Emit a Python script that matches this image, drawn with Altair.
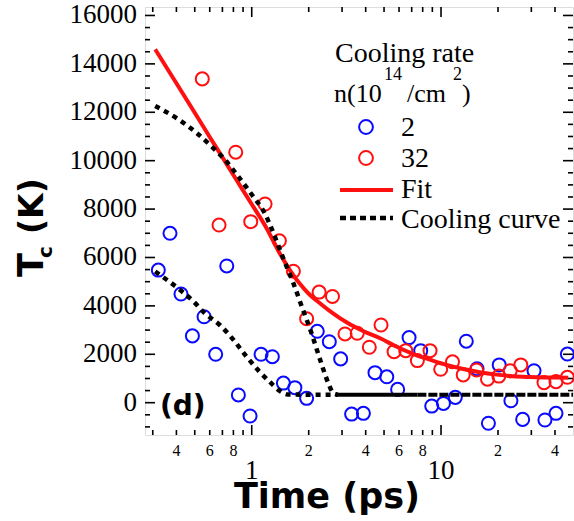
import altair as alt
import pandas as pd

# ---------------- data ----------------
blue_t = [0.321, 0.370, 0.423, 0.486, 0.560, 0.645, 0.738, 0.850, 0.98, 1.12, 1.285,
          1.47, 1.69, 1.95, 2.22, 2.57, 2.95, 3.37, 3.89, 4.48, 5.17, 5.90, 6.78,
          7.81, 8.93, 10.3, 11.9, 13.6, 15.5, 17.8, 20.3, 23.4, 27.0, 31.0, 35.4,
          40.5, 46.5]
blue_tc = [5480, 7000, 4490, 2760, 3550, 2000, 5650, 320, -550, 2000, 1900,
           810, 620, 180, 2950, 2520, 1810, -470, -440, 1240, 1070, 550, 2690,
           2150, -140, -30, 220, 2540, 1400, -850, 1560, 80, -690, 1320, -715,
           -440, 2010]

red_t = [0.548, 0.672, 0.823, 0.988, 1.176, 1.40, 1.66, 1.95, 2.27, 2.67, 3.11,
         3.61, 4.18, 4.82, 5.65, 6.51, 7.50, 8.75, 9.96, 11.5, 13.1, 15.4, 17.6,
         20.2, 23.2, 26.4, 35.0, 40.5, 46.5]
red_tc = [13380, 7340, 10350, 7480, 8210, 6690, 5430, 3470, 4570, 4390, 2840,
          2870, 2290, 3210, 2110, 2150, 1740, 2150, 1380, 1690, 1150, 1350, 970,
          1100, 1320, 1560, 830, 870, 1050]

fit_t = [0.309, 0.4, 0.5, 0.6, 0.7, 0.8, 1.0, 1.2, 1.4, 1.6, 1.8, 2.0, 2.3, 2.7,
         3.2, 3.9, 4.8, 5.8, 7.1, 8.8, 10.7, 13.1, 16, 19.7, 24, 29.5, 36, 47]
fit_tc = [14600, 13200, 11980, 10980, 10140, 9410, 8200, 7200, 6200, 5450, 4900,
          4500, 4100, 3680, 3300, 2950, 2650, 2320, 2020, 1770, 1560, 1390, 1260,
          1160, 1090, 1060, 1045, 1035]

cool_hi_t = [0.309, 0.402, 0.502, 0.615, 0.723, 0.85, 1.0, 1.176, 1.28, 1.47, 1.66,
             1.84, 2.07, 2.30, 2.54, 2.70, 2.85]
cool_hi_tc = [12260, 11750, 11200, 10580, 10030, 9340, 8600, 7800, 7150, 5950, 4934,
              3967, 2868, 1764, 801, 388, 330]

cool_lo_t = [0.309, 0.36, 0.42, 0.49, 0.56, 0.68, 0.80, 0.94, 1.1, 1.25, 1.41, 1.55,
             2.0, 2.85]
cool_lo_tc = [5420, 5050, 4650, 4200, 3720, 3200, 2600, 1900, 1280, 850, 480, 340,
              330, 330]

flat_solid_t = [2.85, 7.5]
flat_dash_t = [7.5, 49.8]
flat_tc = 330

y_major = list(range(0, 16001, 2000))
y_minor = [v for v in range(-1000, 16001, 500) if v % 2000 != 0]
x_major = [1, 10]
x_minor = [0.3, 0.4, 0.5, 0.6, 0.7, 0.8, 0.9, 2, 3, 4, 5, 6, 7, 8, 9, 20, 30, 40]
x_minor_lab = [0.4, 0.6, 0.8, 2, 4, 6, 8, 20, 40]
x_major_lab = [1, 10]

# ---------------- layout ----------------
W = H = 428
SERIF = "Liberation Serif"
SANS = "DejaVu Sans"
BLUE = "#0a0aff"
RED = "#ff1010"
PT_SIZE = 170

xs = alt.Scale(type="log", domain=[0.273, 49.8], nice=False)
ys = alt.Scale(domain=[-1335, 16350], nice=False, zero=False)

pts = pd.DataFrame({
    "t": blue_t + red_t,
    "tc": blue_tc + red_tc,
    "n": ["2"] * len(blue_t) + ["32"] * len(red_t),
})

points = alt.Chart(pts).mark_point(shape="circle", filled=False, size=PT_SIZE, strokeWidth=2,
                                   opacity=1).encode(
    x=alt.X("t:Q", scale=xs, axis=None),
    y=alt.Y("tc:Q", scale=ys, axis=None),
    color=alt.Color("n:N", scale=alt.Scale(domain=["2", "32"], range=[BLUE, RED]), legend=None),
)

fit = alt.Chart(pd.DataFrame({"t": fit_t, "tc": fit_tc})).mark_line(
    color=RED, strokeWidth=4, interpolate="monotone").encode(
    x=alt.X("t:Q", scale=xs, axis=None), y=alt.Y("tc:Q", scale=ys, axis=None))

cool_df = pd.DataFrame({
    "t": cool_hi_t + cool_lo_t,
    "tc": cool_hi_tc + cool_lo_tc,
    "s": ["hi"] * len(cool_hi_t) + ["lo"] * len(cool_lo_t),
})
cool = alt.Chart(cool_df).mark_line(
    color="black", strokeWidth=4.5, strokeDash=[5, 5], interpolate="monotone").encode(
    x=alt.X("t:Q", scale=xs, axis=None), y=alt.Y("tc:Q", scale=ys, axis=None), detail="s:N")

flat1 = alt.Chart(pd.DataFrame({"t": flat_solid_t, "tc": [flat_tc] * 2})).mark_line(
    color="black", strokeWidth=4).encode(
    x=alt.X("t:Q", scale=xs, axis=None), y=alt.Y("tc:Q", scale=ys, axis=None))
flat2 = alt.Chart(pd.DataFrame({"t": flat_dash_t, "tc": [flat_tc] * 2})).mark_line(
    color="black", strokeWidth=4, strokeDash=[9, 2]).encode(
    x=alt.X("t:Q", scale=xs, axis=None), y=alt.Y("tc:Q", scale=ys, axis=None))

# ---------------- inward ticks on all four sides ----------------
def xticks(vals, length):
    df = pd.DataFrame({"v": vals})
    bx = alt.Chart(df).mark_rule(color="black", strokeWidth=1.6).encode(
        x=alt.X("v:Q", scale=xs, axis=None), y=alt.value(H), y2=alt.value(H - length))
    tx = alt.Chart(df).mark_rule(color="black", strokeWidth=1.6).encode(
        x=alt.X("v:Q", scale=xs, axis=None), y=alt.value(0), y2=alt.value(length))
    return [bx, tx]

def yticks(vals, length):
    df = pd.DataFrame({"v": vals})
    ly = alt.Chart(df).mark_rule(color="black", strokeWidth=1.6).encode(
        y=alt.Y("v:Q", scale=ys, axis=None), x=alt.value(0), x2=alt.value(length))
    ry = alt.Chart(df).mark_rule(color="black", strokeWidth=1.6).encode(
        y=alt.Y("v:Q", scale=ys, axis=None), x=alt.value(W), x2=alt.value(W - length))
    return [ly, ry]

ticks = xticks(x_major, 10) + xticks(x_minor, 5) + yticks(y_major, 10) + yticks(y_minor, 5)

# ---------------- tick labels ----------------
minor_lab_df = pd.DataFrame({"v": x_minor_lab,
                             "lab": [f"{v:g}"[0] if v >= 1 else f"{v:g}"[-1] for v in x_minor_lab]})
minor_labels = alt.Chart(minor_lab_df).mark_text(
    font=SERIF, fontSize=16, color="black", baseline="alphabetic", align="center").encode(
    x=alt.X("v:Q", scale=xs, axis=None), y=alt.value(449), text="lab:N")
major_lab_df = pd.DataFrame({"v": x_major_lab, "lab": [f"{v:g}" for v in x_major_lab]})
major_labels = alt.Chart(major_lab_df).mark_text(
    font=SERIF, fontSize=27, color="black", baseline="alphabetic", align="center").encode(
    x=alt.X("v:Q", scale=xs, axis=None), y=alt.value(472), text="lab:N")

y_lab_df = pd.DataFrame({"v": y_major, "lab": [str(v) for v in y_major]})
y_labels = alt.Chart(y_lab_df).mark_text(
    font=SERIF, fontSize=27, color="black", baseline="middle", align="right").encode(
    y=alt.Y("v:Q", scale=ys, axis=None), x=alt.value(-8), text="lab:N")

# ---------------- titles & annotations ----------------
one = pd.DataFrame({"a": [0]})

def txt(s, x, y, size, font=SERIF, weight="normal", align="left", angle=0):
    return alt.Chart(one).mark_text(
        text=s, font=font, fontSize=size, fontWeight=weight, color="black",
        align=align, baseline="alphabetic", angle=angle).encode(
        x=alt.value(x), y=alt.value(y))

xtitle = txt("Time (ps)", 182, 501, 35, font=SANS, weight="bold", align="center")
yt_T = txt("T", -102, 270, 35, font=SANS, weight="bold", angle=270)
yt_c = txt("c", -93, 251, 20, font=SANS, weight="bold", angle=270)
yt_K = txt("(K)", -102, 227, 33, font=SANS, weight="bold", angle=270)
panel = txt("(d)", 15, 408, 28, font=SANS, weight="bold")

# ---------------- legend (drawn by hand) ----------------
leg = [
    txt("Cooling rate", 190, 55, 28),
    txt("n(10", 189, 95, 26),
    txt("14", 239, 73, 18),
    txt("/cm", 262, 95, 26),
    txt("2", 308, 73, 18),
    txt(")", 317, 95, 26),
    txt("2", 256, 129, 28),
    txt("32", 256, 160, 28),
    txt("Fit", 256, 191, 28),
    txt("Cooling curve", 256, 221, 28),
    alt.Chart(one).mark_point(shape="circle", filled=False, size=PT_SIZE + 20, strokeWidth=2,
                              color=BLUE, opacity=1).encode(x=alt.value(221), y=alt.value(120)),
    alt.Chart(one).mark_point(shape="circle", filled=False, size=PT_SIZE + 20, strokeWidth=2,
                              color=RED, opacity=1).encode(x=alt.value(221), y=alt.value(151)),
    alt.Chart(one).mark_rule(color=RED, strokeWidth=4).encode(
        x=alt.value(195), x2=alt.value(248), y=alt.value(183)),
    alt.Chart(one).mark_rule(color="black", strokeWidth=4.5, strokeDash=[6, 4]).encode(
        x=alt.value(195), x2=alt.value(248), y=alt.value(211)),
]

chart = alt.layer(
    points, *ticks, fit, cool, flat1, flat2, minor_labels, major_labels, y_labels,
    xtitle, yt_T, yt_c, yt_K, panel, *leg,
).properties(
    width=W, height=H,
    padding={"left": 145, "top": 7, "right": 1, "bottom": 86},
    autosize=alt.AutoSizeParams(type="none"),
).configure_view(
    stroke="black", strokeWidth=2,
).configure(background="white")

chart.save("out.html", embed_options={"renderer": "svg", "actions": False})
